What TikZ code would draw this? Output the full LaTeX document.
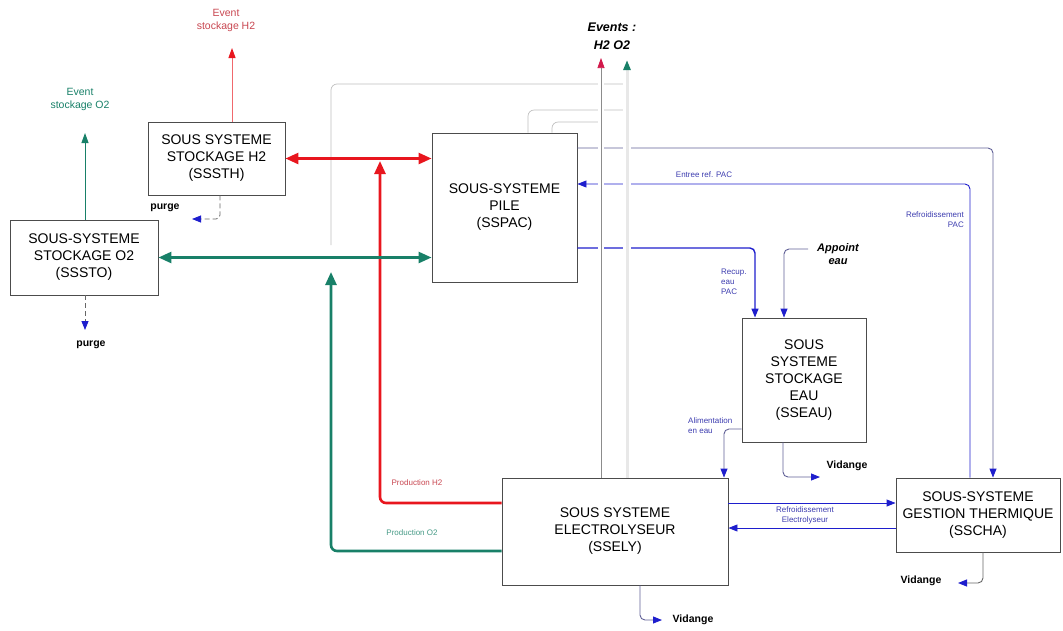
\documentclass[tikz,border=0pt]{standalone}
\usepackage{fontspec}
\setmainfont{Liberation Sans}
\usetikzlibrary{arrows.meta}
\definecolor{myred}{RGB}{232,22,30}
\definecolor{myteal}{RGB}{24,128,104}
\definecolor{myblue}{RGB}{30,30,205}
\definecolor{mylabelblue}{RGB}{60,60,175}
\definecolor{myslate}{RGB}{95,95,150}
\definecolor{myevred}{RGB}{210,25,75}
\definecolor{myevtext}{RGB}{200,70,80}
\tikzset{
  sysbox/.style={draw=black!70,line width=0.9pt,fill=white,align=center,inner sep=0pt,
    font=\fontsize{14}{17}\selectfont},
  thickflow/.style={line width=2.6pt,rounded corners=6pt},
  bigtri/.tip={Triangle[length=13pt,width=11pt]},
  blueflow/.style={myblue,line width=0.9pt,rounded corners=5pt,-{Triangle[length=9pt,width=7pt]}},
  slateflow/.style={myslate,line width=0.9pt,rounded corners=5pt,
    -{Triangle[length=9pt,width=7pt,color=myblue]}},
  purgeflow/.style={black!60,line width=0.8pt,dash pattern=on 5pt off 3pt,rounded corners=4pt,
    -{Triangle[length=9pt,width=7pt,color=myblue]}},
  evgray/.style={black!25,line width=0.7pt,rounded corners=6pt},
  evlbl/.style={font=\fontsize{10.5}{13}\selectfont,align=center,inner sep=0pt},
  smalllbl/.style={font=\fontsize{8}{10}\selectfont,text=mylabelblue,align=center,inner sep=0pt},
  boldlbl/.style={font=\bfseries\fontsize{10.5}{12}\selectfont,inner sep=0pt}
}
\begin{document}
\begin{tikzpicture}[x=1pt,y=-1pt]
  \useasboundingbox (0,0) rectangle (1063,630);
  % sous-systemes
  \node[sysbox,minimum width=137pt,minimum height=73pt] (sssth) at (216.5,158.5) {SOUS SYSTEME\\STOCKAGE H2\\(SSSTH)};
  \node[sysbox,minimum width=148pt,minimum height=75pt] (sssto) at (84,257.5) {SOUS-SYSTEME\\STOCKAGE O2\\(SSSTO)};
  \node[sysbox,minimum width=145pt,minimum height=149pt] (sspac) at (504.5,207.5) {SOUS-SYSTEME\\PILE\\(SSPAC)};
  \node[sysbox,minimum width=124pt,minimum height=124pt] (sseau) at (804,380) {SOUS\\SYSTEME\\STOCKAGE\\EAU\\(SSEAU)};
  \node[sysbox,minimum width=226pt,minimum height=107pt] (ssely) at (615,531.5) {SOUS SYSTEME\\ELECTROLYSEUR\\(SSELY)};
  \node[sysbox,minimum width=164pt,minimum height=74pt] (sscha) at (978,515) {SOUS-SYSTEME\\GESTION THERMIQUE\\(SSCHA)};

  % events
  \coordinate (evstart) at (331,245);
  \draw[evgray] (evstart) -- (331,84) -- (627,84);
  \draw[evgray] (sspac.north -| 528,0) -- (528,110) -- (627,110);
  \draw[evgray] (sspac.north -| 552,0) -- (552,122) -- (601,122);

  % eau / thermique
  \draw[slateflow] (sspac.east |- 0,148) -- (993,148) -- (sscha.north -| 993,0);
  \draw[blueflow] (sscha.north -| 970,0) -- (970,184) -- (sspac.east |- 0,184);
  \draw[blueflow,line width=1.4pt] (sspac.east |- 0,248) -- (755,248) -- (sseau.north -| 755,0);
  \coordinate (appoint) at (808,249);
  \draw[slateflow] (appoint) -- (784,249) -- (sseau.north -| 784,0);
  \draw[slateflow] (sseau.west |- 0,429) -- (724,429) -- (ssely.north -| 724,0);
  \coordinate (vidA) at (820,477);
  \draw[slateflow] (sseau.south -| 783,0) -- (783,477) -- (vidA);
  \draw[blueflow] (ssely.east |- 0,503) -- (sscha.west |- 0,503);
  \draw[blueflow] (sscha.west |- 0,528) -- (ssely.east |- 0,528);
  \coordinate (vidB) at (662,620);
  \draw[slateflow] (ssely.south -| 640,0) -- (640,620) -- (vidB);
  \coordinate (vidC) at (958,583);
  \draw[slateflow,black!60] (sscha.south -| 983,0) -- (983,583) -- (vidC);

  \draw[black!45,line width=0.7pt,preaction={draw,white,line width=6pt,-},
    -{Triangle[length=10pt,width=7pt,color=myevred]}] (ssely.north -| 601,0) -- (601,58);
  \draw[black!9,line width=3pt,preaction={draw,white,line width=8pt,-},
    -{Triangle[length=10pt,width=7pt,color=myteal]}] (ssely.north -| 627,0) -- (627,60);

  % H2 / O2
  \draw[thickflow,myred,{bigtri}-{bigtri}] (sssth.east) -- (sspac.west |- sssth.east);
  \coordinate (h2join) at (380,161);
  \draw[thickflow,myred,-{bigtri}] (ssely.west |- 0,503) -- (380,503) -- (h2join);
  \draw[thickflow,myteal,{bigtri}-{bigtri}] (sssto.east) -- (sspac.west |- sssto.east);
  \coordinate (o2join) at (331,272);
  \draw[thickflow,myteal,-{bigtri}] (ssely.west |- 0,551) -- (331,551) -- (o2join);

  \coordinate (evh2tip) at (232,48);
  \draw[myred!65,line width=1pt,-{Triangle[length=10pt,width=7pt,color=myred]}] (sssth.north -| 232,0) -- (evh2tip);
  \coordinate (evo2tip) at (85,133);
  \draw[myteal,line width=1pt,-{Triangle[length=10pt,width=7pt]}] (sssto.north -| 85,0) -- (evo2tip);
  \coordinate (purgeo2tip) at (85,330);
  \draw[purgeflow] (sssto.south -| 85,0) -- (purgeo2tip);
  \coordinate (purgeh2tip) at (192,219);
  \draw[purgeflow] (sssth.south -| 220,0) -- (220,219) -- (purgeh2tip);

  % labels
  \node[evlbl,text=myevtext] (evh2) at (226,20) {Event\\stockage H2};
  \node[evlbl,text=myteal] (evo2) at (80,99) {Event\\stockage O2};
  \node[boldlbl] (purgeh2) at (165,208) {purge};
  \node[boldlbl] (purgeo2) at (91,345) {purge};
  \node[font=\bfseries\itshape\fontsize{12.5}{18}\selectfont,align=center,inner sep=0pt] (events) at (612,36) {Events :\\H2 O2};
  \node[smalllbl,text=myevtext] (prodh2) at (417,483) {Production H2};
  \node[smalllbl,text=myteal!80] (prodo2) at (412,533) {Production O2};
  \node[smalllbl] (entree) at (704,175) {Entree ref. PAC};
  \node[smalllbl,align=right,anchor=east] (refpac) at (964,220) {Refroidissement\\PAC};
  \node[smalllbl,align=left,anchor=west] (recup) at (721,282) {Recup.\\eau\\PAC};
  \node[font=\bfseries\itshape\fontsize{11}{13}\selectfont,align=center,inner sep=0pt] (appointlbl) at (838,254) {Appoint\\eau};
  \node[smalllbl,align=left,anchor=west] (alim) at (688,426) {Alimentation\\en eau};
  \node[boldlbl] (vidseau) at (847,466) {Vidange};
  \node[smalllbl] (refely) at (805,515) {Refroidissement\\Electrolyseur};
  \node[boldlbl] (vidsely) at (693,620) {Vidange};
  \node[boldlbl] (vidscha) at (921,581) {Vidange};
\end{tikzpicture}
\end{document}
